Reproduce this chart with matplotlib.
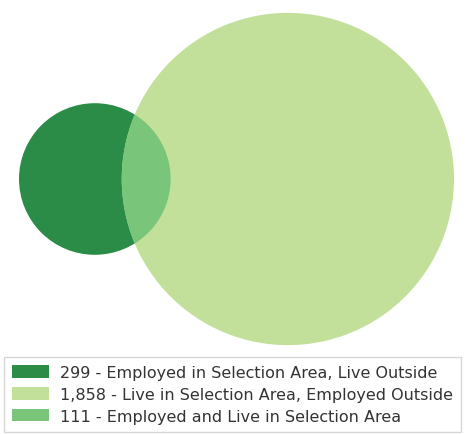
import numpy as np
import matplotlib
matplotlib.use("Agg")
import matplotlib.pyplot as plt
from matplotlib.patches import Circle, Patch

# values from the chart
work_only = 299      # employed in area, live outside
live_only = 1858     # live in area, employed outside
both = 111           # employed and live in area
labels = [
    "299 - Employed in Selection Area, Live Outside",
    "1,858 - Live in Selection Area, Employed Outside",
    "111 - Employed and Live in Selection Area",
]
colors = ["#2b8c48", "#c2e09a", "#79c67b"]


def lens_area(r1, r2, d):
    a = r1**2 * np.arccos((d**2 + r1**2 - r2**2) / (2 * d * r1))
    b = r2**2 * np.arccos((d**2 + r2**2 - r1**2) / (2 * d * r2))
    c = 0.5 * np.sqrt((-d + r1 + r2) * (d + r1 - r2) * (d - r1 + r2) * (d + r1 + r2))
    return a + b - c


def solve_distance(r1, r2, target):
    lo, hi = abs(r2 - r1) + 1e-6, r1 + r2 - 1e-6
    for _ in range(100):
        mid = (lo + hi) / 2
        if lens_area(r1, r2, mid) > target:
            lo = mid
        else:
            hi = mid
    return (lo + hi) / 2


# circle areas proportional to set sizes
r_small = np.sqrt((work_only + both) / np.pi)
r_big = np.sqrt((live_only + both) / np.pi)
d = solve_distance(r_small, r_big, both) * 1.02

W, H = 465, 435
ax_h = 352
fig = plt.figure(figsize=(W / 100, H / 100), dpi=100)
ax = fig.add_axes([0.0, 1 - ax_h / H, 1.0, ax_h / H])
ax.set_aspect("equal")
ax.axis("off")

ax.add_patch(Circle((0, 0), r_small, color=colors[0], lw=0))
ax.add_patch(Circle((d, 0), r_big, color=colors[1], lw=0))

# overlap region drawn as polygon
t = np.linspace(0, 2 * np.pi, 1440)
xs = r_small * np.cos(t)
ys = r_small * np.sin(t)
inside = (xs - d) ** 2 + ys ** 2 <= r_big ** 2
xb = d + r_big * np.cos(t)
yb = r_big * np.sin(t)
inside_b = xb ** 2 + yb ** 2 <= r_small ** 2
pts = np.concatenate([np.c_[xs[inside], ys[inside]], np.c_[xb[inside_b], yb[inside_b]]])
ang = np.arctan2(pts[:, 1], pts[:, 0] - (d - r_big + r_small) / 2)
pts = pts[np.argsort(ang)]
ax.fill(pts[:, 0], pts[:, 1], color=colors[2], lw=0)

span = r_small + d + r_big
scale = span / 435.0
x0 = -r_small - 19 * scale
y0 = -172 * scale
ax.set_xlim(x0, x0 + W * scale)
ax.set_ylim(y0, y0 + ax_h * scale)

handles = [Patch(facecolor=c, edgecolor="none") for c in colors]
fig.legend(handles, labels, loc="lower center", bbox_to_anchor=(0.5, 0.0),
           fontsize=11.5, frameon=True, fancybox=False, edgecolor="#cccccc",
           handlelength=2.3, handleheight=0.85, labelspacing=0.42,
           borderpad=0.5, handletextpad=0.7, borderaxespad=0.15,
           labelcolor="#333333")

fig.savefig("out.png", dpi=100)
